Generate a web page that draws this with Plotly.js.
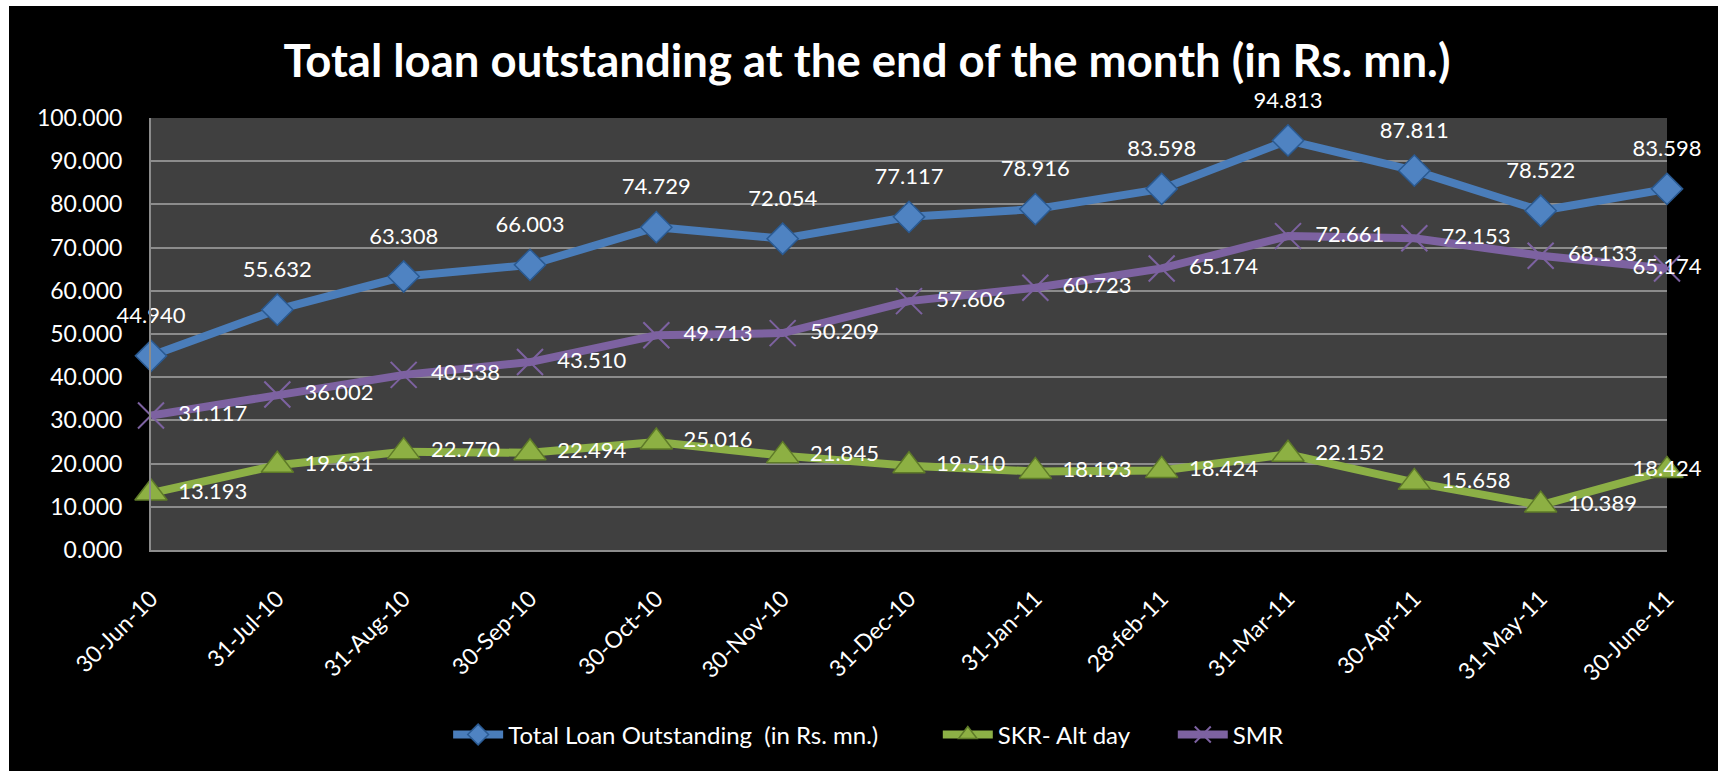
<!DOCTYPE html>
<html>
<head>
<meta charset="utf-8">
<script src="https://cdn.plot.ly/plotly-3.0.1.min.js"></script>
<style>
html,body{margin:0;padding:0;background:#ffffff;width:1718px;height:771px;overflow:hidden;}
#chart{position:absolute;left:9px;top:6px;width:1709px;height:765px;}
</style>
</head>
<body>
<div id="chart"></div>
<script>
const months = ["30-Jun-10","31-Jul-10","31-Aug-10","30-Sep-10","30-Oct-10","30-Nov-10","31-Dec-10","31-Jan-11","28-feb-11","31-Mar-11","30-Apr-11","31-May-11","30-June-11"];
const totalLoan = [44.940,55.632,63.308,66.003,74.729,72.054,77.117,78.916,83.598,94.813,87.811,78.522,83.598];
const skrAltDay = [13.193,19.631,22.770,22.494,25.016,21.845,19.510,18.193,18.424,22.152,15.658,10.389,18.424];
const smr = [31.117,36.002,40.538,43.510,49.713,50.209,57.606,60.723,65.174,72.661,72.153,68.133,65.174];
const seriesNames = ["Total Loan Outstanding  (in Rs. mn.)","SKR- Alt day","SMR"];
const yTicks = [0,10,20,30,40,50,60,70,80,90,100];

const FONT = "Lato, 'Open Sans', sans-serif";
const fmt = v => v.toFixed(3);

function posArr(n, normal, last){ const a=[]; for(let i=0;i<n;i++) a.push(i===n-1?last:normal); return a; }

const lineTraces = [
  {x:months,y:totalLoan,name:seriesNames[0],type:"scatter",mode:"lines+markers",legend:"legend",
   line:{color:"#4a7dba",width:8},
   marker:{symbol:"diamond",size:24,color:"#4f83c2",line:{color:"#2a5a92",width:1.5}},cliponaxis:false},
  {x:months,y:skrAltDay,name:seriesNames[1],type:"scatter",mode:"lines+markers",legend:"legend2",
   line:{color:"#8cb046",width:8},
   marker:{symbol:"triangle-up",size:28,color:"#8db043",line:{color:"#5e7a28",width:1.5}},cliponaxis:false},
  {x:months,y:smr,name:seriesNames[2],type:"scatter",mode:"lines+markers",legend:"legend3",
   line:{color:"#7d62a1",width:8},
   marker:{symbol:"x-thin-open",size:26,color:"#7d62a1",line:{color:"#7d62a1",width:2}},cliponaxis:false}
];

const labelTraces = [
  {x:months,y:totalLoan,text:totalLoan.map(fmt),textposition:"top center"},
  {x:months,y:skrAltDay,text:skrAltDay.map(fmt),textposition:posArr(months.length,"middle right","middle center")},
  {x:months,y:smr,text:smr.map(fmt),textposition:posArr(months.length,"middle right","middle center")}
].map(t=>Object.assign(t,{type:"scatter",mode:"markers+text",showlegend:false,hoverinfo:"skip",
  marker:{size:42,opacity:0,color:"#000"},cliponaxis:false,
  textfont:{family:FONT,size:22,color:"#ffffff"}}));

const legFont = {family:FONT,size:24,color:"#ffffff"};
const legBase = {orientation:"h",y:-0.428,yanchor:"middle",xanchor:"left",font:legFont,bgcolor:"rgba(0,0,0,0)",itemwidth:50};

const layout = {
  width:1709,height:765,
  paper_bgcolor:"#000000",plot_bgcolor:"#404040",
  margin:{l:142,r:51,t:112,b:221},
  font:{family:FONT,color:"#ffffff",size:22},
  title:{text:"Total loan outstanding at the end of the month (in Rs. mn.)",
    font:{family:FONT,size:45.5,color:"#ffffff",weight:"bold"},x:0.502,xanchor:"center",y:0.928,yanchor:"middle"},
  xaxis:{type:"category",range:[0,12],tickangle:-45,showgrid:false,zeroline:false,
    showline:true,linecolor:"#8c8c8c",linewidth:2,ticks:"",ticklabelstandoff:24,
    tickfont:{family:FONT,size:23,color:"#ffffff"}},
  yaxis:{range:[0,100],tickvals:yTicks,ticktext:yTicks.map(fmt),showgrid:true,gridcolor:"#8c8c8c",gridwidth:2,
    zeroline:false,showline:true,linecolor:"#8c8c8c",linewidth:2,ticks:"",ticklabelstandoff:22,
    tickfont:{family:FONT,size:23,color:"#ffffff"}},
  legend:Object.assign({},legBase,{x:0.196}),
  legend2:Object.assign({},legBase,{x:0.519}),
  legend3:Object.assign({},legBase,{x:0.674}),
  showlegend:true
};

Plotly.newPlot("chart", lineTraces.concat(labelTraces), layout, {staticPlot:true,displayModeBar:false});
</script>
</body>
</html>
